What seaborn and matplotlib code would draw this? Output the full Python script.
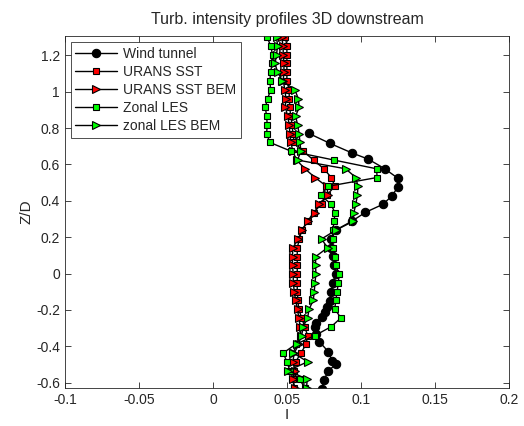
import matplotlib
matplotlib.use("Agg")
import matplotlib.pyplot as plt
import pandas as pd
import seaborn as sns

# Z/D positions of the CFD profiles (top to bottom)
z_cfd = [1.300, 1.252, 1.204, 1.155, 1.107, 1.059, 1.010, 0.962, 0.914, 0.866,
         0.818, 0.769, 0.721, 0.673, 0.624, 0.576, 0.528, 0.480, 0.431, 0.383,
         0.335, 0.287, 0.238, 0.190, 0.142, 0.093, 0.045, -0.003, -0.051, -0.099,
         -0.148, -0.196, -0.244, -0.292, -0.341, -0.389, -0.437, -0.485, -0.534,
         -0.582, -0.630]

urans_sst = [0.049, 0.050, 0.050, 0.050, 0.050, 0.050, 0.0515, 0.0516, 0.052, 0.0525,
             0.0536, 0.054, 0.055, 0.061, 0.068, 0.075, 0.080, 0.0824, 0.077, 0.0735,
             0.068, 0.064, 0.060, 0.0585, 0.057, 0.057, 0.057, 0.057, 0.057, 0.057,
             0.0575, 0.058, 0.060, 0.062, 0.064, 0.063, 0.0595, 0.056, 0.055,
             0.054, 0.055]

urans_sst_bem = [0.0464, 0.0475, 0.0475, 0.048, 0.048, 0.0475, 0.0487, 0.0493, 0.049, 0.0505,
                 0.0516, 0.052, 0.0527, 0.054, 0.0565, 0.0622, 0.069, 0.0768, 0.078, 0.0715,
                 0.069, 0.0644, 0.060, 0.0577, 0.054, 0.0538, 0.0538, 0.0543, 0.0543, 0.055,
                 0.0559, 0.0572, 0.058, 0.059, 0.0595, 0.058, 0.055, 0.054, 0.0554,
                 0.054, 0.0554]

zonal_les = [0.0367, 0.039, 0.0403, 0.040, 0.039, 0.0385, 0.039, 0.037, 0.0354, 0.0363,
             0.0367, 0.0363, 0.0385, 0.0527, 0.0818, 0.1106, 0.111, 0.078, 0.0728, 0.0797,
             0.0824, 0.082, 0.081, 0.081, 0.081, 0.0824, 0.083, 0.0854, 0.0847, 0.084,
             0.083, 0.0824, 0.0865, 0.080, 0.069, 0.056, 0.0475, 0.050, 0.052,
             0.0588, 0.062]

zonal_les_bem = [0.043, 0.0437, 0.043, 0.042, 0.0437, 0.047, 0.0554, 0.0577, 0.0583, 0.0559,
                 0.0572, 0.0583, 0.0588, 0.0595, 0.0572, 0.0897, 0.0966, 0.098, 0.0977, 0.0966,
                 0.0953, 0.0948, 0.083, 0.0734, 0.0775, 0.0694, 0.0694, 0.0696, 0.069, 0.0685,
                 0.0678, 0.065, 0.064, 0.061, 0.060, 0.0565, 0.0543, 0.064, 0.051,
                 0.0637, 0.0633]

# wind tunnel measurements
z_wt = [0.77, 0.716, 0.663, 0.629, 0.577, 0.524, 0.475, 0.427, 0.381, 0.336,
        0.288, 0.239, 0.189, 0.143, 0.097, 0.047, 0.0, -0.051, -0.102, -0.15,
        -0.186, -0.21, -0.238, -0.274, -0.293, -0.33, -0.375, -0.43, -0.48, -0.5,
        -0.535, -0.586, -0.633]
i_wt = [0.065, 0.079, 0.094, 0.105, 0.116, 0.125, 0.125, 0.121, 0.115, 0.103,
        0.094, 0.083, 0.080, 0.080, 0.081, 0.082, 0.083, 0.081, 0.080, 0.079,
        0.077, 0.076, 0.0735, 0.070, 0.069, 0.070, 0.072, 0.078, 0.0806, 0.083,
        0.078, 0.075, 0.0737]

sns.set_style("ticks")
plt.rcParams["font.family"] = ["Liberation Sans", "DejaVu Sans"]

fig = plt.figure(figsize=(5.24, 4.26), dpi=100)
ax = fig.add_axes([0.124, 0.089, 0.847, 0.826])

series = [
    ("Wind tunnel", z_wt, i_wt, "o", "black", 6),
    ("URANS SST", z_cfd, urans_sst, "s", "red", 4),
    ("URANS SST BEM", z_cfd, urans_sst_bem, ">", "red", 6),
    ("Zonal LES", z_cfd, zonal_les, "s", "#00ff00", 4),
    ("zonal LES BEM", z_cfd, zonal_les_bem, ">", "#00ff00", 6),
]
for name, z, vals, mk, fc, ms in series:
    df = pd.DataFrame({"I": vals, "Z": z})
    sns.lineplot(data=df, x="I", y="Z", sort=False, estimator=None, ax=ax,
                 color="black", lw=1, marker=mk, markersize=ms,
                 markerfacecolor=fc, markeredgecolor="black", markeredgewidth=0.8,
                 label=name)

ax.set_xlim(-0.1, 0.2)
ax.set_ylim(-0.63, 1.305)
ax.set_xticks([-0.1, -0.05, 0, 0.05, 0.1, 0.15, 0.2])
ax.set_xticklabels(["-0.1", "-0.05", "0", "0.05", "0.1", "0.15", "0.2"])
ax.set_yticks([-0.6, -0.4, -0.2, 0, 0.2, 0.4, 0.6, 0.8, 1, 1.2])
ax.set_yticklabels(["-0.6", "-0.4", "-0.2", "0", "0.2", "0.4", "0.6", "0.8", "1", "1.2"])
ax.tick_params(direction="in", top=True, right=True, labelsize=10, length=4, width=0.6)
for sp in ax.spines.values():
    sp.set_linewidth(0.6)
ax.set_xlabel("I", fontsize=11, labelpad=1)
ax.set_ylabel("Z/D", fontsize=11, labelpad=2)
ax.set_title("Turb. intensity profiles 3D downstream", fontsize=11.5, pad=9)

leg = ax.legend(loc="upper left", fontsize=10, frameon=True, fancybox=False,
                edgecolor="black", handlelength=3, borderaxespad=0.4,
                labelspacing=0.3, borderpad=0.35, handletextpad=0.4)
leg.get_frame().set_linewidth(0.6)

fig.savefig("out.png", dpi=100)
